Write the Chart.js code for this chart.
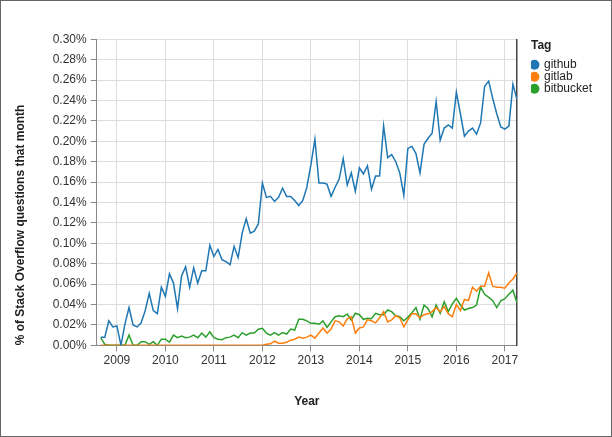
<!DOCTYPE html>
<html>
<head>
<meta charset="utf-8">
<script src="https://cdn.jsdelivr.net/npm/chart.js@4.4.0/dist/chart.umd.min.js"></script>
<style>
  html, body { margin: 0; padding: 0; background: #fff; }
  #frame { width: 610px; height: 435px; border: 1px solid #666; }
  canvas { display: block; }
</style>
</head>
<body>
<div id="frame"><canvas id="chart" width="610" height="435"></canvas></div>
<script>
// monthly data, Sep 2008 .. Apr 2017 (104 months), % of SO questions
var startYear = 2008, startMonth = 9, monthCount = 104;
var yearTicks = [2009, 2010, 2011, 2012, 2013, 2014, 2015, 2016, 2017];
var tags = ["github", "gitlab", "bitbucket"];
var tagColors = ["#1f77b4", "#ff7f0e", "#2ca02c"];

var github = [
  0.008, 0.008, 0.024, 0.018, 0.019, 0.000, 0.021, 0.037, 0.020, 0.018,
  0.022, 0.034, 0.051, 0.034, 0.031, 0.057, 0.048, 0.070, 0.061, 0.036,
  0.068, 0.077, 0.057, 0.076, 0.061, 0.073, 0.073, 0.098, 0.087, 0.094,
  0.084, 0.082, 0.079, 0.097, 0.086, 0.110, 0.124, 0.110, 0.112, 0.119,
  0.159, 0.145, 0.146, 0.141, 0.145, 0.154, 0.146, 0.146, 0.142, 0.137,
  0.142, 0.155, 0.177, 0.202, 0.159, 0.159, 0.158, 0.146, 0.155, 0.163,
  0.183, 0.157, 0.169, 0.151, 0.174, 0.168, 0.176, 0.153, 0.166, 0.166,
  0.215, 0.184, 0.187, 0.180, 0.169, 0.147, 0.193, 0.195, 0.188, 0.169,
  0.197, 0.203, 0.208, 0.239, 0.201, 0.213, 0.216, 0.213, 0.248, 0.227,
  0.205, 0.210, 0.213, 0.207, 0.218, 0.254, 0.259, 0.242, 0.227, 0.214,
  0.212, 0.215, 0.256, 0.241
];
var gitlab = [
  0, 0, 0, 0, 0, 0, 0, 0, 0, 0,
  0, 0, 0, 0, 0, 0, 0, 0, 0, 0,
  0, 0, 0, 0, 0, 0, 0, 0, 0, 0,
  0, 0, 0, 0, 0, 0, 0, 0, 0, 0,
  0, 0.001, 0.0015, 0.004, 0.002, 0.002, 0.003, 0.005, 0.006, 0.008,
  0.007, 0.008, 0.010, 0.007, 0.012, 0.017, 0.012, 0.016, 0.024, 0.023,
  0.019, 0.026, 0.028, 0.012, 0.017, 0.018, 0.025, 0.024, 0.022, 0.027,
  0.033, 0.023, 0.025, 0.029, 0.027, 0.018, 0.025, 0.031, 0.031, 0.027,
  0.030, 0.031, 0.033, 0.037, 0.033, 0.038, 0.031, 0.028, 0.040, 0.034,
  0.045, 0.044, 0.057, 0.053, 0.058, 0.058, 0.071, 0.058, 0.057, 0.057,
  0.056, 0.061, 0.065, 0.071
];
var bitbucket = [
  0.0075, 0.001, 0, 0, 0, 0, 0, 0.010, 0, 0,
  0.0035, 0.0035, 0.001, 0.0035, 0, 0.006, 0.006, 0.003, 0.010, 0.0075,
  0.009, 0.0075, 0.008, 0.010, 0.0075, 0.012, 0.008, 0.0133, 0.0075, 0.006,
  0.0055, 0.0075, 0.008, 0.010, 0.0075, 0.0124, 0.010, 0.012, 0.012, 0.0157,
  0.0167, 0.012, 0.010, 0.0124, 0.010, 0.0124, 0.011, 0.016, 0.015, 0.0255,
  0.0255, 0.024, 0.0216, 0.0216, 0.0206, 0.024, 0.0176, 0.023, 0.028, 0.029,
  0.028, 0.0307, 0.0248, 0.0314, 0.030, 0.0255, 0.0265, 0.026, 0.0314, 0.030,
  0.030, 0.0346, 0.033, 0.029, 0.028, 0.024, 0.0274, 0.032, 0.037, 0.0255,
  0.0395, 0.036, 0.028, 0.0395, 0.0314, 0.0427, 0.033, 0.0405, 0.046, 0.0395,
  0.0346, 0.036, 0.037, 0.0395, 0.057, 0.050, 0.047, 0.0437, 0.037, 0.0437,
  0.0457, 0.050, 0.054, 0.0418
];

// month index -> decimal year for the linear x scale
var months = [];
for (var i = 0; i < monthCount; i++) {
  months.push(startYear + (startMonth - 1 + i) / 12);
}

function toPoints(values) {
  return values.map(function (v, i) { return { x: months[i], y: v }; });
}

var series = [github, gitlab, bitbucket];

Chart.defaults.font.family = '"Liberation Sans", Arial, sans-serif';
Chart.defaults.font.size = 12;
Chart.defaults.color = '#333';

var canvas = document.getElementById("chart");
var myChart = new Chart(canvas, {
  type: 'line',
  data: {
    datasets: tags.map(function (t, k) {
      return {
        label: t,
        data: toPoints(series[k]),
        borderColor: tagColors[k],
        backgroundColor: tagColors[k],
        borderWidth: 1.5,
        pointRadius: 0,
        tension: 0
      };
    })
  },
  options: {
    responsive: false,
    animation: false,
    layout: { padding: { top: 38.3, right: 9, bottom: 20, left: 8 } },
    plugins: {
      tooltip: { enabled: false },
      legend: {
        position: 'right',
        align: 'start',
        labels: {
          usePointStyle: true,
          pointStyle: 'circle',
          boxWidth: 7,
          boxHeight: 7,
          padding: 0,
          color: '#222',
          font: { size: 12 },
          // plain filled dots, no outline
          generateLabels: function (chart) {
            var items = Chart.defaults.plugins.legend.labels.generateLabels(chart);
            items.forEach(function (it) { it.lineWidth = 0; });
            return items;
          }
        },
        title: {
          display: true,
          text: 'Tag',
          position: 'start',
          color: '#222',
          font: { size: 12, weight: 'bold' },
          padding: { top: 0, bottom: 5 }
        }
      }
    },
    scales: {
      x: {
        type: 'linear',
        min: 2008 + 7 / 12,
        max: 2017.25,
        afterBuildTicks: function (scale) {
          scale.ticks = yearTicks.map(function (y) { return { value: y }; });
        },
        afterFit: function (scale) { scale.height = 70.7; },
        ticks: {
          padding: 2,
          color: '#333',
          callback: function (v) { return String(v); }
        },
        grid: { color: '#ddd', tickColor: '#888', tickLength: 6 },
        border: { color: '#888' },
        title: {
          display: true,
          text: 'Year',
          color: '#222',
          font: { size: 12, weight: 'bold' },
          padding: { top: 0, bottom: 7 }
        }
      },
      y: {
        min: 0,
        max: 0.3,
        afterFit: function (scale) { scale.width = 87.7; },
        ticks: {
          stepSize: 0.02,
          padding: 4,
          color: '#333',
          callback: function (v) { return v.toFixed(2) + '%'; }
        },
        grid: { color: '#ddd', tickColor: '#888', tickLength: 6 },
        border: { color: '#888' },
        title: {
          display: true,
          text: '% of Stack Overflow questions that month',
          align: 'start',
          color: '#222',
          font: { size: 12, weight: 'bold' },
          padding: { top: 4, bottom: 0 }
        }
      },
      // right edge line of the plot, also leaves a gap before the legend
      y2: {
        position: 'right',
        display: true,
        ticks: { display: false },
        grid: { drawOnChartArea: false, drawTicks: false },
        border: { display: true, color: '#444', width: 1.5 },
        afterFit: function (scale) { scale.width = 14; }
      }
    }
  }
});
</script>
</body>
</html>
